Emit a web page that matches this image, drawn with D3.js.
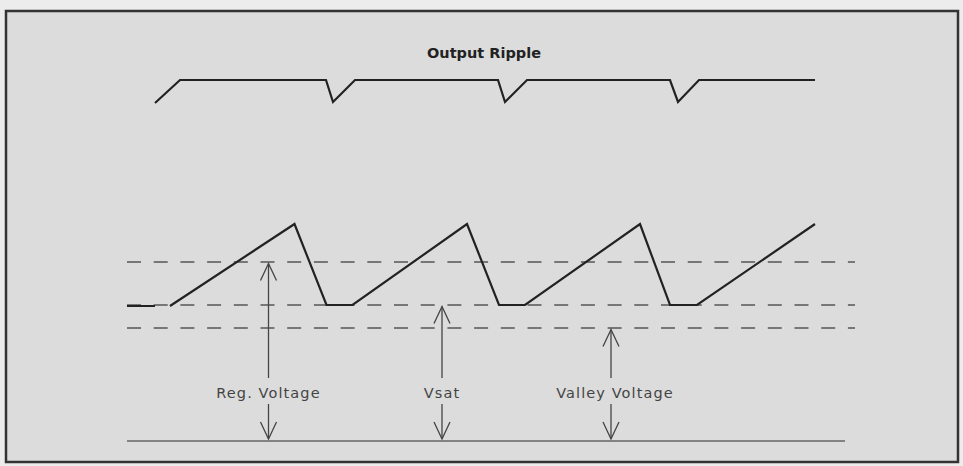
<!DOCTYPE html>
<html>
<head>
<meta charset="utf-8">
<script src="https://cdn.jsdelivr.net/npm/d3@7"></script>
<style>
  body { margin: 0; background: #ececec; }
  text { font-family: "DejaVu Sans", sans-serif; }
</style>
</head>
<body>
<div class="canvas"></div>
<script>
// time in arbitrary units (0.1 ms), level in volts
const sawtooth = [
  [0, 1.35], [2.8, 1.35], null,
  [4.3, 1.35], [16.75, 2.17], [19.95, 1.36], [22.55, 1.36],
  [34.0, 2.17], [37.2, 1.36], [39.8, 1.36],
  [51.3, 2.17], [54.3, 1.36], [57.0, 1.36], [68.8, 2.17]
];
const ripple = [
  [2.8, 3.38], [5.3, 3.61], [19.9, 3.61], [20.6, 3.39], [22.8, 3.61],
  [37.1, 3.61], [37.8, 3.39], [40.0, 3.61],
  [54.3, 3.61], [55.1, 3.39], [57.2, 3.61], [68.8, 3.61]
];
const levelNames = ["Reg. Voltage", "Vsat", "Valley Voltage"];
const levelValues = [1.79, 1.36, 1.13];
const arrowTimes = [14.15, 31.5, 48.4];
const labelLevel = 0.43;
const title = "Output Ripple";

const width = 963, height = 466;
const svg = d3.select(".canvas").append("svg")
  .attr("width", width).attr("height", height);

// frame
svg.append("rect")
  .attr("x", 6).attr("y", 11).attr("width", 952).attr("height", 451)
  .attr("fill", "#dcdcdc").attr("stroke", "#333").attr("stroke-width", 2.5);

const x = d3.scaleLinear().domain([0, 72.8]).range([127, 855]);
const y = d3.scaleLinear().domain([0, 4]).range([441, 41]);

// dashed reference levels
svg.selectAll(".level").data(levelValues).enter().append("line")
  .attr("x1", x(0)).attr("x2", x(72.8))
  .attr("y1", d => y(d)).attr("y2", d => y(d))
  .attr("stroke", "#555").attr("stroke-width", 1.4)
  .attr("stroke-dasharray", "14 12.7");

// zero line
svg.append("line")
  .attr("x1", x(0)).attr("x2", x(71.8))
  .attr("y1", y(0)).attr("y2", y(0))
  .attr("stroke", "#666").attr("stroke-width", 1.3);

const line = d3.line()
  .defined(d => d !== null)
  .x(d => x(d[0])).y(d => y(d[1]));

svg.append("path").datum(sawtooth)
  .attr("d", line).attr("fill", "none")
  .attr("stroke", "#222").attr("stroke-width", 2.2);

svg.append("path").datum(ripple)
  .attr("d", line).attr("fill", "none")
  .attr("stroke", "#222").attr("stroke-width", 2.2);

svg.append("text")
  .attr("x", 484).attr("y", 58)
  .attr("text-anchor", "middle")
  .attr("font-size", 14.5).attr("font-weight", "bold")
  .attr("fill", "#222")
  .text(title);

// dimension arrows
const head = 17, half = 8;
levelNames.forEach((name, i) => {
  const ax = x(arrowTimes[i]);
  const top = y(levelValues[i]) + 1.5;
  const ly = y(labelLevel);
  const bottom = y(0) - 2;
  const g = svg.append("g")
    .attr("stroke", "#444").attr("stroke-width", 1.3).attr("fill", "none");
  g.append("line").attr("x1", ax).attr("x2", ax).attr("y1", top).attr("y2", ly - 20);
  g.append("path").attr("d", `M${ax - half},${top + head}L${ax},${top}L${ax + half},${top + head}`);
  g.append("line").attr("x1", ax).attr("x2", ax).attr("y1", ly + 6).attr("y2", bottom);
  g.append("path").attr("d", `M${ax - half},${bottom - head}L${ax},${bottom}L${ax + half},${bottom - head}`);
  svg.append("text")
    .attr("x", ax + (i === 2 ? 4 : 0)).attr("y", ly)
    .attr("text-anchor", "middle")
    .attr("font-size", 14.5).attr("fill", "#444")
    .attr("letter-spacing", 1.1)
    .text(name);
});
</script>
</body>
</html>
